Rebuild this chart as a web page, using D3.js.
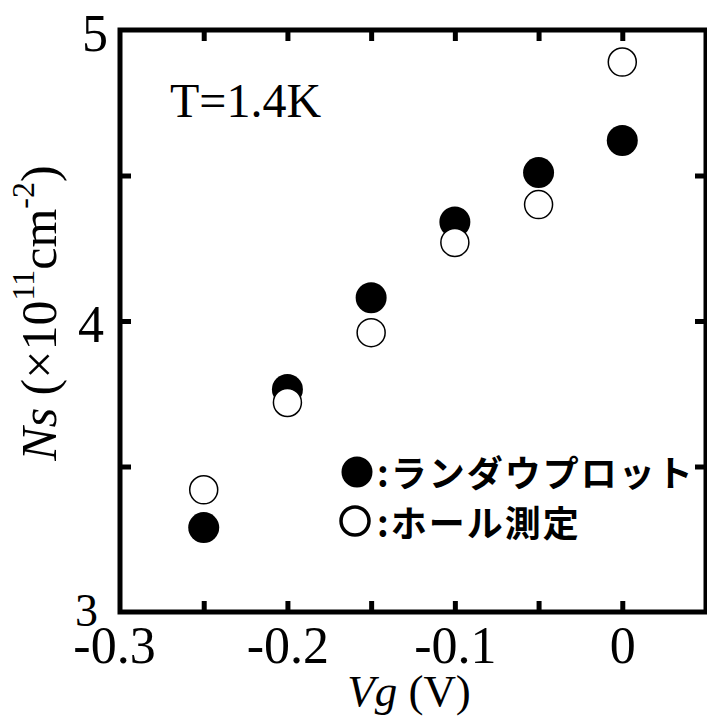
<!DOCTYPE html>
<html>
<head>
<meta charset="utf-8">
<script src="https://cdn.jsdelivr.net/npm/d3@7"></script>
<style>
  body { margin: 0; background: #fff; }
  svg { display: block; }
</style>
</head>
<body>
<svg id="chart"></svg>
<script>
var width = 707;
var height = 722;

// gate voltage (V)
var vg = [-0.25, -0.2, -0.15, -0.1, -0.05, 0];
// Ns from Landau plot (x10^11 cm^-2)
var landau = [3.29, 3.765, 4.08, 4.34, 4.51, 4.62];
// Ns from Hall measurement
var hall = [3.42, 3.72, 3.96, 4.27, 4.40, 4.89];

var xTicks = [-0.25, -0.2, -0.15, -0.1, -0.05, 0];
var xLabels = [-0.3, -0.2, -0.1, 0];
var yTicks = [3.5, 4, 4.5];
var yLabels = [3, 4, 5];

var legendNames = [":ランダウプロット", ":ホール測定"];

var plotL = 120, plotR = 706, plotT = 30, plotB = 612;

var svg = d3.select("#chart").attr("width", width).attr("height", height);

var x = d3.scaleLinear().domain([-0.3, 0.05]).range([plotL, plotR]);
var y = d3.scaleLinear().domain([3, 5]).range([plotB, plotT]);

var serif = "'Liberation Serif', 'DejaVu Serif', serif";

// inner ticks on all four sides
function ticks(g) {
    g.select(".domain").remove();
    g.selectAll(".tick line").attr("stroke", "#000").attr("stroke-width", 5);
}
svg.append("g").attr("transform", "translate(0," + plotB + ")")
    .call(d3.axisBottom(x).tickValues(xTicks).tickSizeInner(-11).tickSizeOuter(0).tickFormat(""))
    .call(ticks);
svg.append("g").attr("transform", "translate(0," + plotT + ")")
    .call(d3.axisTop(x).tickValues(xTicks).tickSizeInner(-11).tickSizeOuter(0).tickFormat(""))
    .call(ticks);
svg.append("g").attr("transform", "translate(" + plotL + ",0)")
    .call(d3.axisLeft(y).tickValues(yTicks).tickSizeInner(-11).tickSizeOuter(0).tickFormat(""))
    .call(ticks);
svg.append("g").attr("transform", "translate(" + plotR + ",0)")
    .call(d3.axisRight(y).tickValues(yTicks).tickSizeInner(-11).tickSizeOuter(0).tickFormat(""))
    .call(ticks);

// frame
svg.append("rect")
    .attr("x", plotL).attr("y", plotT)
    .attr("width", plotR - plotL).attr("height", plotB - plotT)
    .attr("fill", "none").attr("stroke", "#000").attr("stroke-width", 5);

// tick labels
var xl = svg.append("g").attr("transform", "translate(0," + plotB + ")")
    .call(d3.axisBottom(x).tickValues(xLabels).tickSize(0).tickPadding(14)
        .tickFormat(function (d) { return d === 0 ? "0" : String(d); }));
xl.select(".domain").remove();
xl.selectAll("text").attr("font-family", serif).attr("font-size", 52).attr("fill", "#000")
    .attr("dx", function (d) { return d === -0.3 ? -6 : 0; });

var yl = svg.append("g").attr("transform", "translate(" + plotL + ",0)")
    .call(d3.axisLeft(y).tickValues(yLabels).tickSize(0).tickPadding(12).tickFormat(d3.format("d")));
yl.select(".domain").remove();
yl.selectAll("text").attr("font-family", serif).attr("fill", "#000")
    .attr("font-size", function (d) { return d === 3 ? 46 : 52; })
    .attr("dy", function (d) { return d === 3 ? "0.3em" : "0.4em"; })
    .attr("dx", function (d) { return d === 3 ? -10 : (d === 4 ? -4 : 0); });

// points: filled first, open drawn over
svg.append("g").selectAll("circle")
    .data(vg)
    .enter().append("circle")
    .attr("cx", function (d) { return x(d); })
    .attr("cy", function (d, i) { return y(landau[i]); })
    .attr("r", 15.5)
    .attr("fill", "#000");

svg.append("g").selectAll("circle")
    .data(vg)
    .enter().append("circle")
    .attr("cx", function (d) { return x(d); })
    .attr("cy", function (d, i) { return y(hall[i]); })
    .attr("r", 14)
    .attr("fill", "#fff")
    .attr("stroke", "#000")
    .attr("stroke-width", 1.5);

// temperature note
svg.append("text")
    .attr("x", 170).attr("y", 117)
    .attr("font-family", serif).attr("font-size", 48)
    .text("T=1.4K");

// legend
var legend = svg.append("g");
legend.append("circle").attr("cx", 357).attr("cy", 472).attr("r", 15.5).attr("fill", "#000");
legend.append("circle").attr("cx", 355).attr("cy", 521).attr("r", 14)
    .attr("fill", "#fff").attr("stroke", "#000").attr("stroke-width", 3.5);
legend.selectAll("text.leg")
    .data(legendNames)
    .enter().append("text")
    .attr("class", "leg")
    .attr("x", 377)
    .attr("y", function (d, i) { return 487 + i * 50; })
    .attr("font-family", "'Noto Sans CJK JP', sans-serif")
    .attr("font-weight", "bold")
    .attr("font-size", 36)
    .attr("letter-spacing", 2)
    .text(function (d) { return d; });

// axis titles
var xt = svg.append("text")
    .attr("x", 409).attr("y", 706)
    .attr("text-anchor", "middle")
    .attr("font-family", serif).attr("font-size", 45);
xt.append("tspan").attr("font-style", "italic").text("Vg");
xt.append("tspan").text(" (V)");

var yt = svg.append("text")
    .attr("transform", "translate(56,313) rotate(-90)")
    .attr("text-anchor", "middle")
    .attr("font-family", serif).attr("font-size", 50);
yt.append("tspan").attr("font-style", "italic").text("Ns");
yt.append("tspan").text(" (×10");
yt.append("tspan").attr("font-size", 32).attr("dy", -22).text("11");
yt.append("tspan").attr("dy", 22).text("cm");
yt.append("tspan").attr("font-size", 32).attr("dy", -22).text("-2");
yt.append("tspan").attr("dy", 22).text(")");
</script>
</body>
</html>
